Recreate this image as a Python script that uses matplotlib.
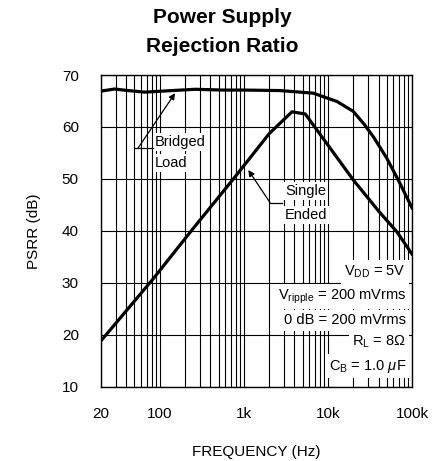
import numpy as np
import matplotlib
matplotlib.use("Agg")
import matplotlib.pyplot as plt

plt.rcParams['font.family'] = ['Liberation Sans', 'DejaVu Sans']
plt.rcParams['mathtext.fontset'] = 'custom'
plt.rcParams['mathtext.rm'] = 'Liberation Sans'
plt.rcParams['mathtext.it'] = 'Liberation Sans:italic'

# data
bridged_f = [20, 29, 42, 66, 139, 263, 549, 1000, 2700, 6700, 12800, 20000, 27000, 35000, 50000, 70000, 100000]
bridged_db = [66.9, 67.3, 67.0, 66.7, 67.0, 67.25, 67.1, 67.1, 67.0, 66.5, 64.9, 63.0, 60.5, 58.0, 54.0, 49.5, 44.4]

single_f = [20, 84, 240, 752, 2000, 3730, 5370, 10000, 20000, 40000, 66000, 100000]
single_db = [18.8, 30.8, 40.1, 50.0, 58.7, 62.9, 62.5, 56.5, 49.8, 43.8, 39.8, 35.5]

xticks = [20, 100, 1000, 10000, 100000]
xticklabels = ['20', '100', '1k', '10k', '100k']
yticks = [10, 20, 30, 40, 50, 60, 70]

conditions = [r'V$_{\mathrm{DD}}$ = 5V',
              r'V$_{\mathrm{ripple}}$ = 200 mVrms',
              '0 dB = 200 mVrms',
              r'R$_{\mathrm{L}}$ = 8$\Omega$',
              r'C$_{\mathrm{B}}$ = 1.0 $\mu$F']
cond_y = [31.3, 26.8, 22.0, 17.8, 13.2]

fig = plt.figure(figsize=(4.36, 4.61), dpi=100)
ax = fig.add_axes([0.2317, 0.1616, 0.945 - 0.2317, 0.8373 - 0.1616])

ax.set_xscale('log')
ax.set_xlim(20, 100000)
ax.set_ylim(10, 70)

# grid: every 1..9 per decade
vgrid = [m * 10 ** d for d in range(1, 5) for m in range(1, 10)]
vgrid = [v for v in vgrid if 20 <= v <= 100000] + [100000]
for v in vgrid:
    ax.axvline(v, color='black', lw=0.8, zorder=1)
for h in yticks:
    ax.axhline(h, color='black', lw=0.8, zorder=1)

ax.plot(bridged_f, bridged_db, color='black', lw=2.3, zorder=4)
ax.plot(single_f, single_db, color='black', lw=2.3, zorder=4)

ax.set_xticks(xticks)
ax.set_xticklabels(xticklabels)
ax.xaxis.set_minor_locator(matplotlib.ticker.NullLocator())
ax.set_yticks(yticks)
ax.tick_params(axis='both', length=0, labelsize=11)
ax.tick_params(axis='x', pad=15)
ax.tick_params(axis='y', pad=16)
for s in ax.spines.values():
    s.set_linewidth(1.0)

ax.set_xlabel('FREQUENCY (Hz)', fontsize=11, labelpad=17)
ax.set_ylabel('PSRR (dB)', fontsize=11, labelpad=15)

# annotations
wb = dict(facecolor='white', edgecolor='none', pad=1.5)
ax.text(88, 56.3, 'Bridged', fontsize=10.5, va='baseline', ha='left', bbox=wb, zorder=5)
ax.text(88, 52.3, 'Load', fontsize=10.5, va='baseline', ha='left', bbox=wb, zorder=5)
ax.annotate('', xy=(152, 66.5), xytext=(55, 55.9),
            arrowprops=dict(arrowstyle='-|>', color='black', lw=0.9,
                            mutation_scale=9, shrinkA=0, shrinkB=0), zorder=5)
ax.plot([50.7, 83], [55.9, 55.9], color='black', lw=0.9, zorder=5)

ax.text(3080, 46.9, 'Single', fontsize=10.5, va='baseline', ha='left', bbox=wb, zorder=5)
ax.text(3080, 42.2, 'Ended', fontsize=10.5, va='baseline', ha='left', bbox=wb, zorder=5)
ax.annotate('', xy=(1130, 51.7), xytext=(2050, 45.4),
            arrowprops=dict(arrowstyle='-|>', color='black', lw=0.9,
                            mutation_scale=9, shrinkA=0, shrinkB=0), zorder=5)
ax.plot([2050, 2840], [45.4, 45.4], color='black', lw=0.9, zorder=5)

for txt, yy in zip(conditions, cond_y):
    ax.text(84800, yy, txt, fontsize=10.5, va='baseline', ha='right',
            bbox=dict(facecolor='white', edgecolor='none', pad=2.5), zorder=5)

fig.text(0.509, 0.951, 'Power Supply', fontsize=15, fontweight='bold',
         ha='center', va='baseline')
fig.text(0.509, 0.888, 'Rejection Ratio', fontsize=15, fontweight='bold',
         ha='center', va='baseline')

fig.savefig('out.png', dpi=100)
